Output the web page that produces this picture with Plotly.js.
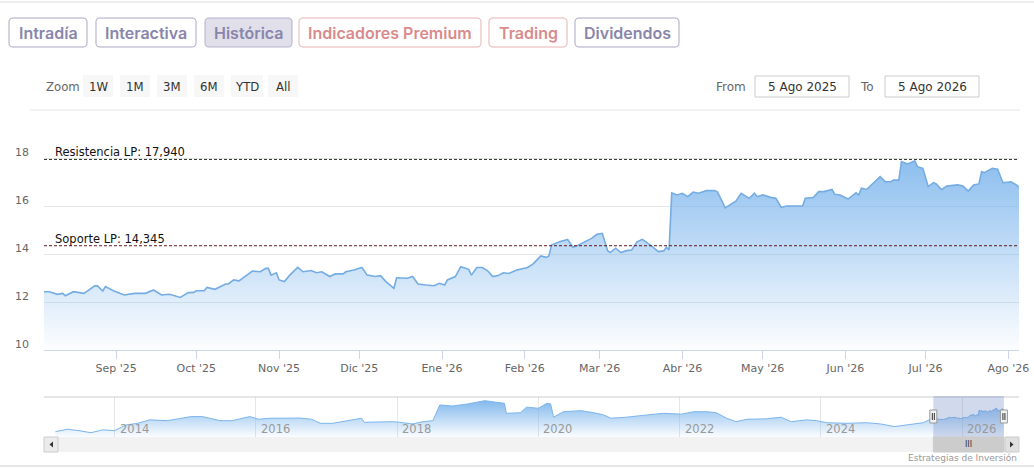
<!DOCTYPE html>
<html>
<head>
<meta charset="utf-8">
<script src="https://cdn.plot.ly/plotly-3.0.1.min.js"></script>
<style>
  html, body { margin: 0; padding: 0; background: #fff; }
  #chart { width: 1034px; height: 469px; }
</style>
</head>
<body>
<div id="chart"></div>
<script>
// ---------------- DATA ----------------
const dates = [
  "2025-08-05","2025-08-07","2025-08-10","2025-08-12","2025-08-13","2025-08-16","2025-08-20","2025-08-24","2025-08-25","2025-08-27","2025-08-28","2025-08-31",
  "2025-09-04","2025-09-08","2025-09-12","2025-09-15","2025-09-18","2025-09-21","2025-09-25","2025-09-28","2025-09-30",
  "2025-10-01","2025-10-04","2025-10-05","2025-10-08","2025-10-12","2025-10-13","2025-10-15","2025-10-17","2025-10-20","2025-10-22","2025-10-25","2025-10-27","2025-10-28","2025-10-29","2025-10-31",
  "2025-11-01","2025-11-03","2025-11-05","2025-11-08","2025-11-10","2025-11-13","2025-11-15","2025-11-17","2025-11-20","2025-11-22","2025-11-25","2025-11-26","2025-11-29",
  "2025-12-02","2025-12-04","2025-12-07","2025-12-09","2025-12-11","2025-12-14","2025-12-15","2025-12-19","2025-12-21","2025-12-23","2025-12-26","2025-12-29","2025-12-31",
  "2026-01-02","2026-01-03","2026-01-06","2026-01-08","2026-01-11","2026-01-12","2026-01-14","2026-01-16","2026-01-18","2026-01-20","2026-01-22","2026-01-24","2026-01-26","2026-01-29",
  "2026-02-02","2026-02-04","2026-02-06","2026-02-07","2026-02-09","2026-02-10","2026-02-11","2026-02-14","2026-02-17","2026-02-19","2026-02-21","2026-02-24","2026-02-26","2026-02-28",
  "2026-03-02","2026-03-04","2026-03-05","2026-03-07","2026-03-09","2026-03-11","2026-03-13","2026-03-15","2026-03-17","2026-03-20","2026-03-23","2026-03-25","2026-03-26","2026-03-27","2026-03-28","2026-03-30",
  "2026-04-01","2026-04-03","2026-04-05","2026-04-07","2026-04-10","2026-04-13","2026-04-14","2026-04-15","2026-04-17","2026-04-21","2026-04-23","2026-04-26","2026-04-28","2026-04-29",
  "2026-05-01","2026-05-04","2026-05-06","2026-05-08","2026-05-10","2026-05-12","2026-05-16","2026-05-17","2026-05-20","2026-05-22","2026-05-24","2026-05-27","2026-05-28","2026-05-30",
  "2026-06-02","2026-06-05","2026-06-06","2026-06-07","2026-06-09","2026-06-12","2026-06-14","2026-06-16","2026-06-18","2026-06-19","2026-06-21","2026-06-22","2026-06-24","2026-06-25","2026-06-27","2026-06-28","2026-06-30",
  "2026-07-02","2026-07-04","2026-07-05","2026-07-07","2026-07-09","2026-07-13","2026-07-15","2026-07-17","2026-07-19","2026-07-21","2026-07-22","2026-07-23","2026-07-26","2026-07-28","2026-07-30",
  "2026-08-02","2026-08-04","2026-08-05"
];
const prices = [
  12.43,12.43,12.32,12.36,12.26,12.43,12.36,12.67,12.67,12.46,12.64,12.47,
  12.29,12.36,12.36,12.50,12.29,12.32,12.19,12.39,12.40,
  12.47,12.47,12.61,12.53,12.75,12.75,12.92,12.88,13.12,13.29,13.26,13.40,13.40,13.12,13.22,
  12.92,12.85,13.12,13.44,13.26,13.31,13.22,13.26,13.06,13.17,13.17,13.26,13.33,
  13.44,13.12,13.06,13.10,12.85,12.57,13.01,12.99,13.06,12.75,12.71,12.68,12.78,
  12.71,12.92,13.06,13.47,13.36,13.12,13.44,13.44,13.31,13.06,13.10,13.22,13.19,13.33,
  13.44,13.58,13.82,13.92,13.86,13.92,14.37,14.51,14.61,14.28,14.37,14.54,14.65,14.82,
  14.86,14.14,14.06,14.24,14.06,14.14,14.17,14.51,14.61,14.37,14.10,14.13,14.28,14.17,16.55,16.46,
  16.53,16.39,16.58,16.53,16.64,16.64,16.60,16.39,15.92,16.20,16.53,16.32,16.53,16.39,
  16.46,16.36,16.32,15.94,16.00,16.00,16.00,16.32,16.35,16.60,16.60,16.69,16.49,16.46,
  16.29,16.55,16.46,16.74,16.69,17.01,17.22,17.01,17.01,17.08,17.08,17.85,17.76,17.78,17.88,17.64,17.57,
  16.81,16.97,16.92,16.69,16.83,16.88,16.83,16.62,16.88,16.92,17.43,17.39,17.57,17.53,16.97,
  17.01,16.88,16.78
];
// long history shown in the navigator (before the main window)
const histDates = [
  "2013-03-01","2013-05-01","2013-07-01","2013-09-01","2013-11-01","2014-01-01","2014-03-01","2014-05-01","2014-07-01","2014-10-01","2014-12-01",
  "2015-02-01","2015-04-01","2015-07-01","2015-09-01","2015-12-01","2016-01-15","2016-03-15","2016-06-01","2016-08-15","2016-10-15","2016-12-01",
  "2017-02-01","2017-04-15","2017-07-01","2017-07-15","2017-10-01","2017-12-10","2018-01-15","2018-03-20","2018-05-15","2018-07-05","2018-08-10","2018-10-15",
  "2019-01-01","2019-03-30","2019-07-10","2019-07-20","2019-10-01","2019-11-01","2020-01-01","2020-02-15","2020-03-05","2020-03-20","2020-05-10","2020-08-10",
  "2020-10-30","2020-12-05","2021-01-10","2021-04-01","2021-07-15","2021-10-10","2022-01-10","2022-03-15","2022-05-20","2022-07-10","2022-09-01","2022-10-20",
  "2022-12-15","2023-03-25","2023-06-10","2023-08-01","2023-10-20","2023-12-10","2024-02-01","2024-05-15","2024-08-25","2024-11-05","2025-01-15","2025-03-20",
  "2025-06-15","2025-07-20"
];
const histPrices = [
  6.3,7.5,6.8,5.8,7.2,6.8,9.6,10.4,12.1,11.7,12.7,
  13.7,13.7,11.7,11.7,13.7,12.4,12.9,12.9,13.0,12.4,10.4,
  10.4,11.7,12.9,10.9,11.2,11.2,10.9,10.1,11.2,11.7,19.4,18.9,
  19.9,21.5,20.2,15.3,15.6,18.3,17.8,20.2,19.9,13.4,16.1,16.6,
  15.3,14.5,12.9,13.4,14.5,15.3,14.9,16.1,16.1,15.6,12.9,11.2,
  12.4,12.6,13.4,11.2,12.1,11.7,10.7,10.4,10.7,10.1,8.8,9.6,
  10.7,12.4
];
const resistance = 17.940;
const support = 14.345;
const xRange = ["2025-08-05", "2026-08-05"];
const monthTicks = ["2025-09-01","2025-10-01","2025-11-01","2025-12-01","2026-01-01","2026-02-01","2026-03-01","2026-04-01","2026-05-01","2026-06-01","2026-07-01","2026-08-01"];
const monthLabels = ["Sep '25","Oct '25","Nov '25","Dic '25","Ene '26","Feb '26","Mar '26","Abr '26","May '26","Jun '26","Jul '26","Ago '26"];
const yTicks = [10, 12, 14, 16, 18];
const navRange = ["2013-01-01", "2026-10-22"];
const yearTicks = ["2014-01-01","2016-01-01","2018-01-01","2020-01-01","2022-01-01","2024-01-01","2026-01-01"];
const yearLabels = ["2014","2016","2018","2020","2022","2024","2026"];
const tabs = ["Intradía","Interactiva","Histórica","Indicadores Premium","Trading","Dividendos"];
const zoomButtons = ["1W","1M","3M","6M","YTD","All"];
const fromText = "5 Ago 2025";
const toText = "5 Ago 2026";
const credit = "Estrategias de Inversión";

// ---------------- LAYOUT HELPERS ----------------
const W = 1034, H = 469;
const X = p => p / W;
const Y = p => 1 - p / H;
function rr(x0, y0, x1, y1, r) {
  const f = (a, b) => X(a).toFixed(5) + ',' + Y(b).toFixed(5);
  return 'M' + f(x0 + r, y0) + ' L' + f(x1 - r, y0) + ' Q' + f(x1, y0) + ' ' + f(x1, y0 + r) +
    ' L' + f(x1, y1 - r) + ' Q' + f(x1, y1) + ' ' + f(x1 - r, y1) +
    ' L' + f(x0 + r, y1) + ' Q' + f(x0, y1) + ' ' + f(x0, y1 - r) +
    ' L' + f(x0, y0 + r) + ' Q' + f(x0, y0) + ' ' + f(x0 + r, y0) + ' Z';
}
function tri(pts) {
  return 'M' + pts.map(p => X(p[0]).toFixed(5) + ',' + Y(p[1]).toFixed(5)).join(' L') + ' Z';
}
function hline(y, x0, x1, color) {
  return {type: 'line', xref: 'paper', yref: 'paper', x0: X(x0), x1: X(x1), y0: Y(y), y1: Y(y), line: {color: color, width: 1}};
}

const FONT = 'DejaVu Sans, Verdana, sans-serif';
const NARROW = 'Liberation Sans Narrow, DejaVu Sans Condensed, Liberation Sans, sans-serif';
const L = 44, R = 1019;

const shapes = [];
const annotations = [];

// page frame lines
shapes.push(hline(2, 0, 1034, '#dddddd'));
shapes.push(hline(110, 30, 1020, '#e6e6e6'));
shapes.push(hline(466, 0, 1034, '#cccccc'));

// tabs
const tabBoxes = [[9, 87], [96, 196], [205, 292], [299, 481], [489, 567], [575, 679]];
const tabStyles = [
  {c: '#8985ab', b: '#aaa7c3', bg: '#ffffff'},
  {c: '#8985ab', b: '#aaa7c3', bg: '#ffffff'},
  {c: '#8985ab', b: '#b3b1c9', bg: '#e0dfea'},
  {c: '#d98b8b', b: '#e6b2b2', bg: '#ffffff'},
  {c: '#d98b8b', b: '#e6b2b2', bg: '#ffffff'},
  {c: '#8985ab', b: '#aaa7c3', bg: '#ffffff'}
];
tabs.forEach((t, i) => {
  const [a, b] = tabBoxes[i];
  const s = tabStyles[i];
  shapes.push({type: 'path', xref: 'paper', yref: 'paper', path: rr(a, 18, b, 47, 4),
    fillcolor: s.bg, line: {color: s.b, width: 1}});
  annotations.push({xref: 'paper', yref: 'paper', x: X((a + b) / 2), y: Y(33), xanchor: 'center', yanchor: 'middle',
    text: t, showarrow: false, font: {family: 'Inter, Lato, sans-serif', size: 16, weight: 600, color: s.c}});
});

// range selector
annotations.push({xref: 'paper', yref: 'paper', x: X(44), y: Y(86.5), xanchor: 'left', yanchor: 'middle',
  text: 'Zoom', showarrow: false, font: {family: NARROW, size: 13, color: '#666666'}});
const zb = [[83, 113], [120, 150], [157, 187], [194, 224], [231, 263], [268, 298]];
zoomButtons.forEach((t, i) => {
  const [a, b] = zb[i];
  shapes.push({type: 'rect', xref: 'paper', yref: 'paper', x0: X(a), x1: X(b), y0: Y(75), y1: Y(97),
    fillcolor: '#f7f7f7', line: {width: 0}});
  annotations.push({xref: 'paper', yref: 'paper', x: X((a + b) / 2), y: Y(86.5), xanchor: 'center', yanchor: 'middle',
    text: t, showarrow: false, font: {family: NARROW, size: 13, color: '#333333'}});
});
annotations.push({xref: 'paper', yref: 'paper', x: X(748), y: Y(86.5), xanchor: 'right', yanchor: 'middle',
  text: 'From', showarrow: false, font: {family: FONT, size: 12, color: '#666666'}});
annotations.push({xref: 'paper', yref: 'paper', x: X(876), y: Y(86.5), xanchor: 'right', yanchor: 'middle',
  text: 'To', showarrow: false, font: {family: FONT, size: 12, color: '#666666'}});
[[755, 849, fromText], [885, 979, toText]].forEach(([a, b, t]) => {
  shapes.push({type: 'rect', xref: 'paper', yref: 'paper', x0: X(a), x1: X(b), y0: Y(76), y1: Y(97),
    fillcolor: '#ffffff', line: {color: '#cccccc', width: 1}});
  annotations.push({xref: 'paper', yref: 'paper', x: X((a + b) / 2), y: Y(86.5), xanchor: 'center', yanchor: 'middle',
    text: t, showarrow: false, font: {family: FONT, size: 12, color: '#333333'}});
});

// support / resistance
const fmt = v => v.toFixed(3).replace('.', ',');
[[resistance, '#2a3328', 'Resistencia LP: '], [support, '#5e1a22', 'Soporte LP: ']].forEach(([v, c, lab]) => {
  shapes.push({type: 'line', xref: 'x', yref: 'y', x0: xRange[0], x1: xRange[1], y0: v, y1: v,
    line: {color: c, width: 1, dash: '3px,2px'}, layer: 'above'});
  annotations.push({xref: 'paper', yref: 'y', x: X(53), y: v, xanchor: 'left', yanchor: 'bottom', yshift: -2,
    text: lab + fmt(v), showarrow: false, font: {family: FONT, size: 11.5, color: '#111111'}});
});

// navigator
const NT = 397, NB = 437, SB = 452;
shapes.push(hline(NT, L, R, '#cccccc'));
shapes.push({type: 'rect', xref: 'x2', yref: 'paper', x0: xRange[0], x1: xRange[1], y0: Y(NB), y1: Y(NT - 1),
  fillcolor: 'rgba(102,133,194,0.3)', line: {width: 0}, layer: 'above'});
yearTicks.forEach((d, i) => {
  annotations.push({xref: 'x2', yref: 'paper', x: d, y: Y(429), xanchor: 'left', yanchor: 'middle', xshift: 3,
    text: yearLabels[i], showarrow: false, font: {family: FONT, size: 11.5, color: '#999999'}});
});
// scrollbar
shapes.push({type: 'rect', xref: 'paper', yref: 'paper', x0: X(L), x1: X(R), y0: Y(SB), y1: Y(NB),
  fillcolor: '#f2f2f2', line: {width: 0}});
shapes.push({type: 'rect', xref: 'x2', yref: 'paper', x0: xRange[0], x1: xRange[1], y0: Y(SB), y1: Y(NB),
  fillcolor: '#cccccc', line: {color: '#cccccc', width: 1}});
shapes.push({type: 'rect', xref: 'paper', yref: 'paper', x0: X(L), x1: X(L + 14), y0: Y(SB), y1: Y(NB),
  fillcolor: '#ebebeb', line: {color: '#cccccc', width: 1}});
shapes.push({type: 'rect', xref: 'paper', yref: 'paper', x0: X(R - 14), x1: X(R), y0: Y(SB), y1: Y(NB),
  fillcolor: '#e0e0e0', line: {color: '#cccccc', width: 1}});
shapes.push({type: 'path', xref: 'paper', yref: 'paper', path: tri([[L + 9, 441.5], [L + 9, 447.5], [L + 5.5, 444.5]]),
  fillcolor: '#333333', line: {width: 0}});
shapes.push({type: 'path', xref: 'paper', yref: 'paper', path: tri([[R - 9, 441.5], [R - 9, 447.5], [R - 5.5, 444.5]]),
  fillcolor: '#333333', line: {width: 0}});
const mid = new Date((Date.parse(xRange[0]) + Date.parse(xRange[1])) / 2).toISOString().slice(0, 10);
annotations.push({xref: 'x2', yref: 'paper', x: mid, y: Y(444.5), xanchor: 'center', yanchor: 'middle',
  text: 'III', showarrow: false, font: {family: FONT, size: 8, color: '#333333'}});
// handles
xRange.forEach(d => {
  shapes.push({type: 'rect', xref: 'x2', xsizemode: 'pixel', xanchor: d, x0: -3.5, x1: 3.5, yref: 'paper',
    y0: Y(423), y1: Y(410), fillcolor: '#f2f2f2', line: {color: '#999999', width: 1}, layer: 'above'});
  [-1, 1].forEach(o => shapes.push({type: 'line', xref: 'x2', xsizemode: 'pixel', xanchor: d, x0: o, x1: o,
    yref: 'paper', y0: Y(420), y1: Y(413), line: {color: '#333333', width: 1}, layer: 'above'}));
});
annotations.push({xref: 'paper', yref: 'paper', x: X(R), y: Y(458), xanchor: 'right', yanchor: 'middle',
  text: credit, showarrow: false, font: {family: FONT, size: 9, color: '#999999'}});

// ---------------- TRACES ----------------
const main = {
  type: 'scatter', mode: 'lines', x: dates, y: prices, xaxis: 'x', yaxis: 'y',
  line: {color: '#74acE3', width: 1.6},
  fill: 'tozeroy',
  fillgradient: {type: 'vertical', start: 10, stop: 18.6,
    colorscale: [[0, 'rgba(124,181,236,0.02)'], [1, 'rgba(124,181,236,0.95)']]},
  hoverinfo: 'skip'
};
const nav = {
  type: 'scatter', mode: 'lines', x: histDates.concat(dates), y: histPrices.concat(prices), xaxis: 'x2', yaxis: 'y2',
  line: {color: '#7cb5ec', width: 1},
  fill: 'tozeroy',
  fillgradient: {type: 'vertical', start: 3.7, stop: 21.5,
    colorscale: [[0, 'rgba(124,181,236,0.03)'], [1, 'rgba(124,181,236,0.95)']]},
  hoverinfo: 'skip'
};

const layout = {
  width: W, height: H, autosize: false,
  margin: {l: 0, r: 0, t: 0, b: 0, pad: 0},
  paper_bgcolor: '#ffffff', plot_bgcolor: 'rgba(0,0,0,0)',
  showlegend: false,
  xaxis: {
    domain: [X(L), X(R)], anchor: 'y', type: 'date', range: xRange,
    tickmode: 'array', tickvals: monthTicks, ticktext: monthLabels,
    ticks: 'outside', ticklen: 8, tickcolor: '#ccd6eb', tickwidth: 1,
    showline: true, linecolor: '#ccd6eb', linewidth: 1,
    showgrid: false, zeroline: false, fixedrange: true,
    tickfont: {family: FONT, size: 11, color: '#666666'}
  },
  yaxis: {
    domain: [Y(350), Y(143)], anchor: 'x', range: [10, 18.625],
    tickmode: 'array', tickvals: yTicks, ticktext: yTicks.map(String),
    showgrid: true, gridcolor: '#e6e6e6', gridwidth: 1, zeroline: false, showline: false,
    ticks: '', ticklabelstandoff: 14, ticklabelshift: -6, fixedrange: true,
    tickfont: {family: FONT, size: 11, color: '#666666'}
  },
  xaxis2: {
    domain: [X(L), X(R)], anchor: 'y2', type: 'date', range: navRange,
    tickmode: 'array', tickvals: yearTicks, showticklabels: false,
    ticks: '', showline: false,
    showgrid: true, gridcolor: '#e6e6e6', zeroline: false, fixedrange: true
  },
  yaxis2: {
    domain: [Y(NB), Y(NT)], anchor: 'x2', range: [3.7, 23.3],
    showgrid: false, zeroline: false, showticklabels: false, ticks: '', fixedrange: true
  },
  shapes: shapes,
  annotations: annotations
};

Plotly.newPlot('chart', [main, nav], layout, {staticPlot: true, displayModeBar: false});
</script>
</body>
</html>
